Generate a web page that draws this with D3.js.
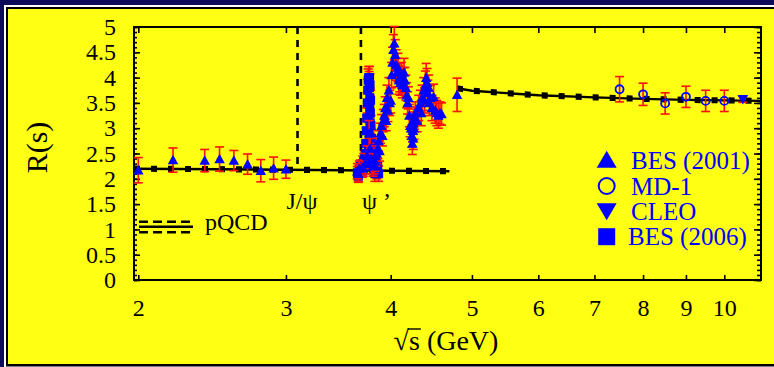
<!DOCTYPE html>
<html><head><meta charset="utf-8">
<script src="https://cdn.jsdelivr.net/npm/d3@7"></script>
<style>body{margin:0;background:#fff}svg{display:block}text{font-family:"Liberation Serif","Times New Roman",serif}</style>
</head><body><svg id="c" width="774" height="367" font-family="Liberation Serif"></svg>
<script>
// ---------------- data ----------------
const xTicks = [2, 3, 4, 5, 6, 7, 8, 9, 10];
const xTickLabels = ["2", "3", "4", "5", "6", "7", "8", "9", "10"];
const yTicks = [0, 0.5, 1, 1.5, 2, 2.5, 3, 3.5, 4, 4.5, 5];
const yTickLabels = ["0", "0.5", "1", "1.5", "2", "2.5", "3", "3.5", "4", "4.5", "5"];

// BES (2001) - up triangles
const bes2001E = [2.0, 2.2, 2.4, 2.5, 2.6, 2.7, 2.8, 2.9, 3.0,
  3.65, 3.66, 3.67, 3.70, 3.73, 3.75, 3.77, 3.78, 3.79, 3.80, 3.81, 3.82, 3.83, 3.84, 3.85, 3.86, 3.87, 3.88, 3.89,
  3.90, 3.91, 3.92, 3.93, 3.94, 3.95, 3.96, 3.97, 3.98, 3.99, 4.00, 4.01, 4.02, 4.03, 4.04, 4.05, 4.06, 4.07, 4.08,
  4.09, 4.10, 4.11, 4.12, 4.13, 4.14, 4.15, 4.16, 4.17, 4.18, 4.19, 4.20, 4.21, 4.22, 4.23, 4.24, 4.245, 4.25,
  4.255, 4.26, 4.265, 4.27, 4.28, 4.30, 4.32, 4.34, 4.35, 4.36, 4.38, 4.39, 4.40, 4.41, 4.42, 4.43, 4.44, 4.45,
  4.46, 4.48, 4.50, 4.52, 4.54, 4.56, 4.58, 4.60, 4.80];
const bes2001R = [2.17, 2.37, 2.36, 2.39, 2.36, 2.29, 2.16, 2.21, 2.19,
  2.15, 2.10, 2.20, 2.22, 2.30, 2.45, 2.90, 2.60, 2.40, 2.30, 2.25, 2.30, 2.35, 2.45, 2.50, 2.60, 2.75, 2.55, 2.90,
  3.05, 2.85, 3.15, 3.25, 3.40, 3.15, 3.60, 3.35, 3.75, 3.50, 3.55, 4.05, 4.30, 4.55, 4.68, 4.45, 4.25, 4.10, 4.20,
  3.95, 4.00, 3.90, 4.05, 3.85, 3.95, 4.10, 3.95, 3.80, 3.65, 3.50, 3.60, 3.25, 3.05, 3.00, 2.85, 2.70, 2.95,
  2.80, 3.10, 3.00, 3.20, 3.30, 3.15, 3.40, 3.50, 3.30, 3.60, 3.75, 3.55, 3.85, 4.00, 3.90, 3.70, 3.80, 3.50,
  3.60, 3.40, 3.62, 3.35, 3.30, 3.25, 3.30, 3.28, 3.66];
const bes2001Err = [0.25, 0.24, 0.22, 0.24, 0.20, 0.20, 0.22, 0.22, 0.18,
  0.15, 0.15, 0.15, 0.15, 0.20, 0.20, 0.25, 0.20, 0.20, 0.20, 0.20, 0.20, 0.20, 0.20, 0.20, 0.20, 0.20, 0.20, 0.20,
  0.22, 0.20, 0.22, 0.22, 0.22, 0.20, 0.25, 0.22, 0.25, 0.25, 0.25, 0.25, 0.30, 0.30, 0.33, 0.30, 0.30, 0.28, 0.28,
  0.28, 0.28, 0.25, 0.25, 0.25, 0.25, 0.28, 0.25, 0.25, 0.25, 0.22, 0.22, 0.22, 0.22, 0.22, 0.22, 0.22, 0.22,
  0.22, 0.22, 0.22, 0.22, 0.22, 0.22, 0.25, 0.25, 0.25, 0.25, 0.25, 0.25, 0.28, 0.28, 0.28, 0.25, 0.25, 0.25,
  0.25, 0.25, 0.25, 0.25, 0.25, 0.25, 0.22, 0.22, 0.33];

// BES (2006) - squares
const bes2006E = [3.650, 3.660, 3.670, 3.680, 3.700, 3.705, 3.710, 3.715, 3.720, 3.725, 3.730, 3.735, 3.740,
  3.745, 3.750, 3.755, 3.760, 3.762, 3.765, 3.768, 3.770, 3.771, 3.773, 3.775, 3.776, 3.778, 3.779, 3.780,
  3.782, 3.783, 3.785, 3.786, 3.788, 3.790, 3.795, 3.800, 3.805, 3.810, 3.815, 3.820, 3.830, 3.840, 3.850,
  3.860, 3.870];
const bes2006R = [2.12, 2.05, 2.18, 2.25, 2.15, 2.30, 2.20, 2.35, 2.25, 2.40, 2.50, 2.70, 2.95,
  3.20, 3.50, 3.75, 3.95, 2.60, 4.00, 3.20, 3.90, 2.90, 3.80, 4.00, 3.40, 3.60, 2.80, 3.85,
  3.10, 3.30, 3.55, 2.70, 2.50, 3.05, 2.80, 2.60, 2.45, 2.35, 2.20, 2.30, 2.10, 2.20, 2.15,
  2.25, 2.10];
const bes2006Err = [0.12, 0.12, 0.12, 0.12, 0.12, 0.15, 0.15, 0.15, 0.15, 0.15, 0.15, 0.18, 0.18,
  0.20, 0.20, 0.22, 0.22, 0.18, 0.22, 0.20, 0.22, 0.20, 0.20, 0.22, 0.20, 0.20, 0.18, 0.22,
  0.20, 0.20, 0.20, 0.18, 0.18, 0.20, 0.18, 0.18, 0.18, 0.15, 0.15, 0.15, 0.15, 0.15, 0.15,
  0.15, 0.15];

// MD-1 - open circles
const md1E = [7.5, 8.0, 8.5, 9.0, 9.5, 10.0];
const md1R = [3.77, 3.67, 3.49, 3.62, 3.54, 3.54];
const md1Err = [0.25, 0.22, 0.21, 0.21, 0.21, 0.21];

// CLEO - down triangle
const cleoE = [10.52];
const cleoR = [3.57];
const cleoErr = [0.06];

// pQCD bands
const pqcdLowE = [1.9765, 2.5, 3.0, 3.5, 4.0, 4.7];
const pqcdLowR = [2.20, 2.19, 2.18, 2.17, 2.16, 2.15];
const pqcdHighE = [4.8, 5.0, 6.0, 7.0, 8.0, 9.0, 10.0, 11.06];
const pqcdHighR = [3.79, 3.74, 3.65, 3.61, 3.58, 3.56, 3.55, 3.54];
const pqcdBand = 0.035;

// resonances
const resE = [3.097, 3.686];
const resLabels = ["J/\u03C8", "\u03C8 \u2019"];
const resBottomR = 2.2;

const legendLabels = ["BES (2001)", "MD-1", "CLEO", "BES (2006)"];

// ---------------- layout ----------------
const svg = d3.select("#c");
const L = 134, R = 761, T = 27, B = 280;
const x = d3.scaleLog().domain([1.9765, 11.06]).range([L, R]);
const y = d3.scaleLinear().domain([0, 5]).range([B, T]);
const BLUE = "#0000ff", RED = "#ff1010";
const resLabelDx = [-11, 1];

// frame
svg.append("rect").attr("width", 774).attr("height", 367).attr("fill", "#0c0c5a");
svg.append("rect").attr("x", 4).attr("y", 5).attr("width", 800).attr("height", 362).attr("fill", "#ffffff");
svg.append("rect").attr("x", 6).attr("y", 7).attr("width", 800).attr("height", 359.5).attr("fill", "#000000");
svg.append("rect").attr("x", 8).attr("y", 9).attr("width", 800).attr("height", 355).attr("fill", "#ffff14");

// axes
const fontTick = 24;
const minorY = d3.range(0, 5.001, 0.1).map(v => +v.toFixed(1));
function styleAxis(g) {
  g.attr("font-family", "Liberation Serif");
  g.selectAll("path.domain").remove();
  g.selectAll("line").attr("stroke", "#000").attr("stroke-width", 1.6);
  g.selectAll("text").attr("font-family", "Liberation Serif").attr("font-size", fontTick).attr("fill", "#000");
}
svg.append("g").attr("transform", `translate(0,${B})`)
  .call(d3.axisBottom(x).tickValues(xTicks).tickFormat((d, i) => xTickLabels[i]).tickSize(-5).tickPadding(19))
  .call(styleAxis);
svg.append("g").attr("transform", `translate(0,${T})`)
  .call(d3.axisTop(x).tickValues(xTicks).tickFormat("").tickSize(-6))
  .call(styleAxis);
svg.append("g").attr("transform", `translate(${L},0)`)
  .call(d3.axisLeft(y).tickValues(yTicks).tickFormat((d, i) => yTickLabels[i]).tickSize(-6).tickPadding(18))
  .call(styleAxis);
svg.append("g").attr("transform", `translate(${L},0)`)
  .call(d3.axisLeft(y).tickValues(minorY).tickFormat("").tickSize(-3))
  .call(styleAxis);
svg.append("g").attr("transform", `translate(${R},0)`)
  .call(d3.axisRight(y).tickValues(yTicks).tickFormat("").tickSize(-7))
  .call(styleAxis);
svg.append("g").attr("transform", `translate(${R},0)`)
  .call(d3.axisRight(y).tickValues(minorY).tickFormat("").tickSize(-4))
  .call(styleAxis);
svg.append("rect").attr("x", L).attr("y", T).attr("width", R - L).attr("height", B - T)
  .attr("fill", "none").attr("stroke", "#000").attr("stroke-width", 2);

// axis titles
svg.append("text").attr("transform", `translate(47,${(T + B) / 2 - 6}) rotate(-90)`)
  .attr("text-anchor", "middle").attr("font-size", 30).text("R(s)");
const xt = svg.append("text").attr("x", 446).attr("y", 350).attr("text-anchor", "middle").attr("font-size", 28);
xt.append("tspan").text("\u221A");
xt.append("tspan").text("s");
xt.append("tspan").text(" (GeV)");
{
  const node = xt.node();
  const s0 = node.getStartPositionOfChar(1), s1 = node.getEndPositionOfChar(1);
  svg.append("line").attr("x1", s0.x - 1).attr("x2", s1.x + 1).attr("y1", s0.y - 21).attr("y2", s0.y - 21)
    .attr("stroke", "#000").attr("stroke-width", 1.4);
}

// resonance dashed lines + labels
resE.forEach((e, i) => {
  svg.append("line").attr("x1", x(e)).attr("x2", x(e)).attr("y1", y(5)).attr("y2", y(resBottomR))
    .attr("stroke", "#000").attr("stroke-width", 2.6).attr("stroke-dasharray", "7,6");
  svg.append("text").attr("x", x(e) + resLabelDx[i]).attr("y", 209).attr("font-size", 24).text(resLabels[i]);
});

// pQCD bands
function band(E, Rv) {
  const pts = E.map((e, i) => [e, Rv[i]]);
  const ln = d3.line().x(d => x(d[0])).y(d => y(d[1]));
  svg.append("path").attr("d", ln(pts)).attr("fill", "none").attr("stroke", "#000").attr("stroke-width", 2.4);
  [pqcdBand, -pqcdBand].forEach(o => {
    svg.append("path").attr("d", ln(pts.map(p => [p[0], p[1] + o]))).attr("fill", "none")
      .attr("stroke", "#000").attr("stroke-width", 2.6).attr("stroke-dasharray", "6,11");
  });
}
band(pqcdLowE, pqcdLowR);
band(pqcdHighE, pqcdHighR);

// pQCD legend
[[-5, true], [0, false], [5.5, true]].forEach(([dy, dash]) => {
  const l = svg.append("line").attr("x1", 139).attr("x2", 193).attr("y1", 226.7 + dy).attr("y2", 226.7 + dy)
    .attr("stroke", "#000").attr("stroke-width", 2.4);
  if (dash) l.attr("stroke-dasharray", "9,5");
});
svg.append("text").attr("x", 205).attr("y", 230).attr("font-size", 24).text("pQCD");

// markers
function upTri(cx, cy, w, h) { return `M${cx},${cy - h * 0.55}L${cx + w / 2},${cy + h * 0.45}L${cx - w / 2},${cy + h * 0.45}Z`; }
function dnTri(cx, cy, w, h) { return `M${cx},${cy + h * 0.55}L${cx + w / 2},${cy - h * 0.45}L${cx - w / 2},${cy - h * 0.45}Z`; }

function errBars(E, Rv, Er) {
  const g = svg.append("g").attr("stroke", RED).attr("stroke-width", 1.6);
  E.forEach((e, i) => {
    const cx = x(e), y1 = y(Rv[i] - Er[i]), y2 = y(Rv[i] + Er[i]);
    g.append("line").attr("x1", cx).attr("x2", cx).attr("y1", y1).attr("y2", y2);
    g.append("line").attr("x1", cx - 4.5).attr("x2", cx + 4.5).attr("y1", y1).attr("y2", y1);
    g.append("line").attr("x1", cx - 4.5).attr("x2", cx + 4.5).attr("y1", y2).attr("y2", y2);
  });
}

// BES 2006
errBars(bes2006E, bes2006R, bes2006Err);
svg.append("g").selectAll("rect").data(bes2006E).join("rect")
  .attr("x", d => x(d) - 4.5).attr("y", (d, i) => y(bes2006R[i]) - 4.5).attr("width", 9).attr("height", 9).attr("fill", BLUE);
// BES 2001
errBars(bes2001E, bes2001R, bes2001Err);
svg.append("g").selectAll("path").data(bes2001E).join("path")
  .attr("d", (d, i) => upTri(x(d), y(bes2001R[i]), 10.5, 9.5)).attr("fill", BLUE);
// MD-1
errBars(md1E, md1R, md1Err);
svg.append("g").selectAll("circle").data(md1E).join("circle")
  .attr("cx", d => x(d)).attr("cy", (d, i) => y(md1R[i])).attr("r", 4)
  .attr("fill", "none").attr("stroke", BLUE).attr("stroke-width", 1.8);
// CLEO
errBars(cleoE, cleoR, cleoErr);
svg.append("g").selectAll("path").data(cleoE).join("path")
  .attr("d", (d, i) => dnTri(x(d), y(cleoR[i]), 10.5, 9.5)).attr("fill", BLUE);

// legend
const lgX = 606.7, lgRows = [160, 186, 211, 236.7];
svg.append("path").attr("d", upTri(lgX, lgRows[0], 20, 17)).attr("fill", BLUE);
svg.append("circle").attr("cx", lgX).attr("cy", lgRows[1]).attr("r", 8).attr("fill", "none").attr("stroke", BLUE).attr("stroke-width", 2);
svg.append("path").attr("d", dnTri(lgX, lgRows[2], 20, 17)).attr("fill", BLUE);
svg.append("rect").attr("x", lgX - 8.5).attr("y", lgRows[3] - 8.5).attr("width", 17).attr("height", 17).attr("fill", BLUE);
legendLabels.forEach((t, i) => {
  svg.append("text").attr("x", i === 3 ? 628 : 631).attr("y", lgRows[i] + 8.5)
    .attr("font-size", 25).attr("fill", BLUE).text(t);
});
</script></body></html>
